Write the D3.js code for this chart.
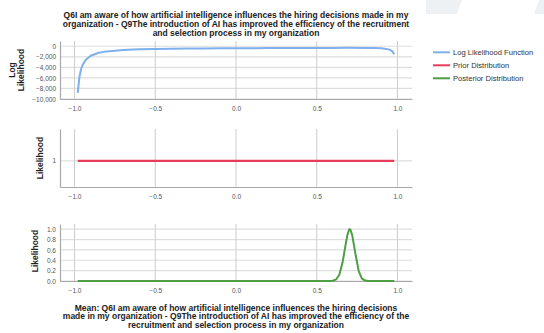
<!DOCTYPE html>
<html>
<head>
<meta charset="utf-8">
<script src="https://cdn.jsdelivr.net/npm/d3@7"></script>
<style>
  html, body { margin: 0; padding: 0; background: #fff; }
  svg { display: block; font-family: "Liberation Sans", Arial, sans-serif; }
</style>
</head>
<body>
<svg id="chart" width="544" height="333"></svg>
<script>
// Correlation parameter (rho) grid shared by the three series
const rhoLog = [-0.98, -0.97, -0.96, -0.95, -0.93, -0.9, -0.85, -0.8, -0.7, -0.6, -0.5, -0.4, -0.3, -0.2, -0.1,
  0, 0.1, 0.2, 0.3, 0.4, 0.5, 0.6, 0.7, 0.8, 0.85, 0.9, 0.93, 0.95, 0.96, 0.97, 0.98];
const logLikelihood = [-8850, -5880, -4410, -3530, -2540, -1800, -1240, -970, -710, -580, -510, -465, -430, -410, -390,
  -370, -360, -345, -335, -325, -315, -305, -300, -310, -335, -395, -495, -640, -775, -1010, -1500];

const rhoPrior = [-0.98, 0.98];
const prior = [1, 1];

const rhoPost = [-0.98, -0.5, 0, 0.5, 0.55, 0.58, 0.6, 0.62, 0.64, 0.66, 0.68, 0.69, 0.7, 0.705, 0.71, 0.72,
  0.74, 0.76, 0.78, 0.8, 0.82, 0.85, 0.98];
const posterior = [0, 0, 0, 0, 0, 0.001, 0.004, 0.03, 0.12, 0.36, 0.72, 0.89, 0.99, 1, 0.98, 0.88,
  0.52, 0.19, 0.045, 0.008, 0.001, 0, 0];

const xTicks = [-1, -0.5, 0, 0.5, 1];
const logTicks = [0, -2000, -4000, -6000, -8000, -10000];
const priorTicks = [1];
const postTicks = [0, 0.2, 0.4, 0.6, 0.8, 1.0];

const titleLines = [
  "Q6I am aware of how artificial intelligence influences the hiring decisions made in my",
  "organization - Q9The introduction of AI has improved the efficiency of the recruitment",
  "and selection process in my organization"
];
const xTitleLines = [
  "Mean: Q6I am aware of how artificial intelligence influences the hiring decisions",
  "made in my organization - Q9The introduction of AI has improved the efficiency of the",
  "recruitment and selection process in my organization"
];
const legendItems = ["Log Likelihood Function", "Prior Distribution", "Posterior Distribution"];
const colors = ["#7eb0ee", "#e63c5c", "#4e9e44"];

const svg = d3.select("#chart");

// faint page decoration in the top-right corner
svg.append("polygon").attr("points", "426,0 462,0 457,14 426,14").attr("fill", "#eef1f4");
svg.append("polygon").attr("points", "539,0 544,0 544,14 534,14").attr("fill", "#eef1f4");

const x = d3.scaleLinear().domain([-1.09, 1.09]).range([60, 412]);

const tickFmt = d3.format(".1f");

function panel(opts) {
  const g = svg.append("g");
  const y = d3.scaleLinear().domain(opts.yDomain).range([opts.bottom, opts.top]);

  // horizontal grid
  g.selectAll(".hg").data(opts.yTicks).join("line")
    .attr("x1", 60).attr("x2", 412)
    .attr("y1", d => y(d)).attr("y2", d => y(d))
    .attr("stroke", "#dedede").attr("stroke-width", 1.2);
  // vertical grid
  g.selectAll(".vg").data(xTicks).join("line")
    .attr("x1", d => x(d)).attr("x2", d => x(d))
    .attr("y1", opts.top).attr("y2", opts.bottom)
    .attr("stroke", "#cdcdcd").attr("stroke-width", 1);

  // axes
  const xAxis = d3.axisBottom(x).tickValues(xTicks).tickFormat(tickFmt).tickSize(0).tickPadding(7);
  const ax = g.append("g").attr("transform", `translate(0,${opts.bottom})`).call(xAxis);
  ax.select(".domain").attr("stroke", "#a8a8a8").attr("stroke-width", 1.2);
  ax.selectAll("text").attr("font-size", 6.5).attr("fill", "#555");

  const yAxis = d3.axisLeft(y).tickValues(opts.yTicks).tickFormat(opts.yFmt).tickSize(0).tickPadding(4);
  const ay = g.append("g").attr("transform", "translate(60,0)").call(yAxis);
  ay.select(".domain").attr("stroke", "#a8a8a8").attr("stroke-width", 1.2);
  ay.selectAll("text").attr("font-size", 6.5).attr("fill", "#555");

  // series line
  const line = d3.line().x(d => x(d[0])).y(d => y(d[1]));
  g.append("path")
    .datum(d3.zip(opts.xs, opts.ys))
    .attr("d", line)
    .attr("fill", "none")
    .attr("stroke", opts.color)
    .attr("stroke-width", opts.width)
    .attr("stroke-linejoin", "round");

  // y title
  const t = g.append("text")
    .attr("transform", `translate(${opts.titleX},${opts.titleY}) rotate(-90)`)
    .attr("text-anchor", "middle")
    .attr("font-size", 8.5).attr("font-weight", "bold").attr("fill", "#222");
  opts.yTitle.forEach((s, i) => {
    t.append("tspan").attr("x", 0).attr("dy", i === 0 ? 0 : 8.5).text(s);
  });
}

panel({
  top: 41, bottom: 99, yDomain: [-10000, 1000], yTicks: logTicks, yFmt: d3.format(","),
  xs: rhoLog, ys: logLikelihood, color: colors[0], width: 2,
  yTitle: ["Log", "Likelihood"], titleX: 15, titleY: 70
});
panel({
  top: 129, bottom: 187, yDomain: [0.55, 1.55], yTicks: priorTicks, yFmt: d3.format("d"),
  xs: rhoPrior, ys: prior, color: colors[1], width: 2.4,
  yTitle: ["Likelihood"], titleX: 43, titleY: 158
});
panel({
  top: 224, bottom: 281, yDomain: [0, 1.1], yTicks: postTicks, yFmt: d3.format(".1f"),
  xs: rhoPost, ys: posterior, color: colors[2], width: 2,
  yTitle: ["Likelihood"], titleX: 37.5, titleY: 251
});

// chart title
svg.append("g").selectAll("text").data(titleLines).join("text")
  .attr("x", 236).attr("y", (d, i) => 18.3 + i * 8.8)
  .attr("text-anchor", "middle").attr("font-size", 8.5).attr("font-weight", "bold").attr("fill", "#222")
  .text(d => d);

// x-axis title
svg.append("g").selectAll("text").data(xTitleLines).join("text")
  .attr("x", 236).attr("y", (d, i) => 310.5 + i * 8.8)
  .attr("text-anchor", "middle").attr("font-size", 8.5).attr("font-weight", "bold").attr("fill", "#222")
  .text(d => d);

// legend
const lg = svg.append("g").selectAll("g").data(legendItems).join("g")
  .attr("transform", (d, i) => `translate(433,${52.3 + i * 13})`);
lg.append("line").attr("x1", 0).attr("x2", 17).attr("y1", 0).attr("y2", 0)
  .attr("stroke", (d, i) => colors[i]).attr("stroke-width", 2);
lg.append("text").attr("x", 20).attr("y", 2.7).attr("font-size", 7.6).attr("fill", "#333").text(d => d);
</script>
</body>
</html>
